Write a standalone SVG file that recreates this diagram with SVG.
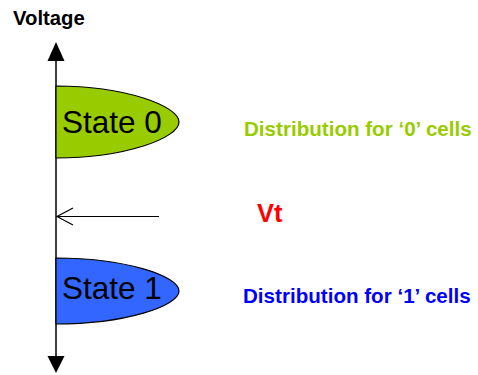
<svg xmlns="http://www.w3.org/2000/svg" width="478" height="375" viewBox="0 0 478 375">
  <style>
    .lbl { font-family: "Liberation Sans", Arial, sans-serif; font-weight: bold; }
    .state { font-family: "Liberation Sans", Arial, sans-serif; font-size: 31.5px; fill: #000; }
    .dist { stroke: #000; stroke-width: 1.2; }
    .axis { stroke: #000; stroke-width: 1.5; fill: none; }
  </style>
  <rect width="478" height="375" fill="#fff"/>

  <!-- Voltage axis -->
  <g id="axis">
    <text class="lbl" x="13" y="25" font-size="20.3" fill="#000">Voltage</text>
    <line class="axis" x1="56" y1="58" x2="56" y2="358"/>
    <polygon points="56,42 47.5,61 64.5,61" fill="#000"/>
    <polygon points="56,373 47.5,356 64.5,356" fill="#000"/>
  </g>

  <!-- '0' cell distribution -->
  <g id="state0">
    <path class="dist" fill="#99cc00" d="M56,86 C125,86 179,106 179,122 C179,138 125,158 56,158 Z"/>
    <text class="state" x="62" y="133">State 0</text>
  </g>

  <!-- '1' cell distribution -->
  <g id="state1">
    <path class="dist" fill="#3366ff" d="M56,258 C125,258 179,276 179,291 C179,306 125,324 56,324 Z"/>
    <text class="state" x="62" y="298.5">State 1</text>
  </g>

  <!-- read threshold pointer -->
  <g id="connectors">
    <line x1="159" y1="216.5" x2="57" y2="216.5" stroke="#000" stroke-width="1.2"/>
    <polyline points="73,208 57,216.5 73,225" fill="none" stroke="#000" stroke-width="1.2"/>
  </g>

  <g id="labels">
    <text class="lbl" x="244" y="136" font-size="20.6" fill="#99cc00">Distribution for ‘0’ cells</text>
    <text class="lbl" x="257" y="222" font-size="25.5" fill="#ff0000">Vt</text>
    <text class="lbl" x="243" y="303" font-size="20.6" fill="#0000ff">Distribution for ‘1’ cells</text>
  </g>
</svg>
